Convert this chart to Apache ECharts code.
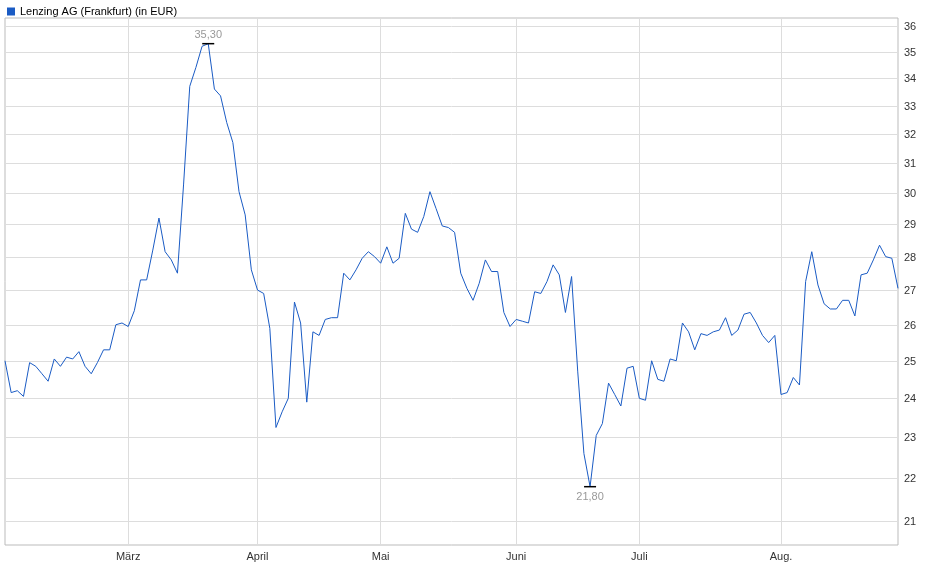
<!DOCTYPE html>
<html><head><meta charset="utf-8">
<script src="https://cdn.jsdelivr.net/npm/echarts@6/dist/echarts.min.js"></script>
<style>html,body{margin:0;padding:0;background:#fff}#c{width:940px;height:579px}</style>
</head><body><div id="c"></div>
<script>
const seriesName = 'Lenzing AG (Frankfurt) (in EUR)';
const prices = [
25.0,24.15,24.2,24.05,24.95,24.85,24.65,24.45,25.05,24.85,25.1,25.05,25.25,24.85,24.65,24.95,25.3,25.3,26.0,26.05,
25.95,26.4,27.3,27.3,28.2,29.2,28.15,27.9,27.5,30.3,33.7,34.4,35.2,35.3,33.6,33.35,32.4,31.7,30.05,29.3,
27.6,27.0,26.9,25.9,23.25,23.65,24.0,26.65,26.05,23.9,25.8,25.7,26.15,26.2,26.2,27.5,27.3,27.6,27.95,28.15,
28.0,27.8,28.3,27.8,27.95,29.35,28.85,28.75,29.25,30.05,29.5,28.95,28.9,28.75,27.5,27.05,26.7,27.2,27.9,27.55,
27.55,26.35,25.95,26.15,26.1,26.05,26.95,26.9,27.25,27.75,27.45,26.35,27.4,24.7,22.6,21.8,23.05,23.35,24.4,24.1,
23.8,24.8,24.85,24.0,23.95,25.0,24.5,24.45,25.05,25.0,26.05,25.8,25.3,25.75,25.7,25.8,25.85,26.2,25.7,25.85,
26.3,26.35,26.05,25.7,25.5,25.7,24.1,24.15,24.55,24.35,27.25,28.15,27.15,26.6,26.45,26.45,26.7,26.7,26.25,27.45,
27.5,27.9,28.35,28.0,27.95,27.05];
const monthIdx = [20, 41, 61, 83, 103, 126];
const monthLabels = ['März', 'April', 'Mai', 'Juni', 'Juli', 'Aug.'];
const yTicks = [21,22,23,24,25,26,27,28,29,30,31,32,33,34,35,36];
const yMin = 20.46, yMax = 36.3;

const cats = prices.map((_, i) => String(i));
const logData = prices.map(v => Math.log(v));
const fmt = v => Math.exp(v).toFixed(2).replace('.', ',');
const chart = echarts.init(document.getElementById('c'));
chart.setOption({
  animation: false,
  legend: {left: 2, top: 1, itemWidth: 8, itemHeight: 8, itemGap: 4, icon: 'rect',
    data: [seriesName], textStyle: {fontSize: 11, color: '#000', fontFamily: 'Liberation Sans, Arial'}},
  grid: {left: 5, right: 42, top: 18, bottom: 34, show: true, borderColor: '#bbb', borderWidth: 1},
  xAxis: {type: 'category', data: cats, boundaryGap: false,
    axisLine: {show: false}, axisTick: {show: false},
    splitLine: {show: true, interval: (i) => monthIdx.includes(i), lineStyle: {color: '#ddd'}},
    axisLabel: {interval: (i) => monthIdx.includes(i), formatter: (v, i) => monthLabels[monthIdx.indexOf(i)] || '',
      fontSize: 11, color: '#333', margin: 6, fontFamily: 'Liberation Sans, Arial'}},
  yAxis: {type: 'value', min: Math.log(yMin), max: Math.log(yMax), position: 'right',
    axisLine: {show: false}, axisTick: {show: false}, axisLabel: {show: false}, splitLine: {show: false}},
  series: [
    {name: 'grid', type: 'custom', z: 1, silent: true,
      data: yTicks.map(t => [0, Math.log(t), t]),
      renderItem: (params, api) => {
        const cs = params.coordSys;
        const y = Math.round(api.coord([0, api.value(1)])[1]) + 0.5;
        return {type: 'group', children: [
          {type: 'line', shape: {x1: cs.x, y1: y, x2: cs.x + cs.width, y2: y},
            style: {stroke: '#ddd', lineWidth: 1}},
          {type: 'text', x: cs.x + cs.width + 6, y: y,
            style: {text: String(api.value(2)), fill: '#333', fontSize: 11,
              fontFamily: 'Liberation Sans, Arial', verticalAlign: 'middle', align: 'left'}}
        ]};
      }},
    {name: seriesName, type: 'line', data: logData, z: 3, symbol: 'none',
      itemStyle: {color: '#1a5bc4'}, lineStyle: {color: '#1a5bc4', width: 1},
      markPoint: {symbol: 'rect', symbolSize: [12, 1.5], itemStyle: {color: '#000'},
        data: [
          {type: 'max', label: {position: 'top', distance: 2, formatter: p => fmt(p.value), color: '#999', fontSize: 11}},
          {type: 'min', label: {position: 'bottom', distance: 4, formatter: p => fmt(p.value), color: '#999', fontSize: 11}}
        ]}}
  ]
});
</script></body></html>
